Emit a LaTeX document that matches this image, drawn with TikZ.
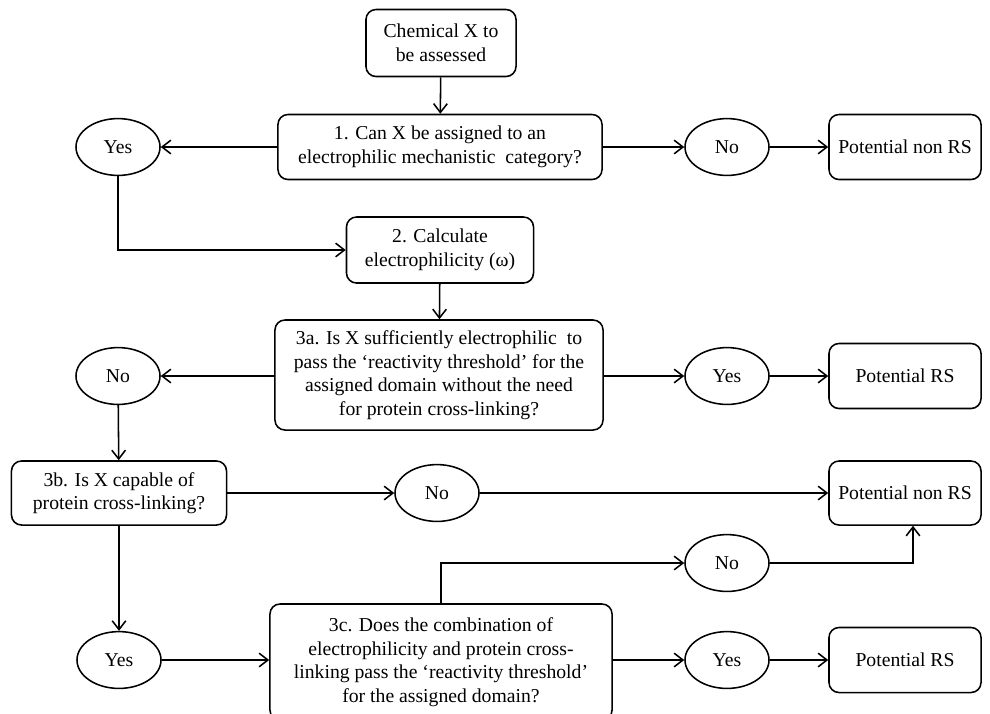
\documentclass[tikz,border=0pt]{standalone}
\usepackage{fontspec}
\setmainfont{Liberation Serif}
\usepackage{tikz}
\usetikzlibrary{shapes,arrows.meta}
\tikzset{
  stepbox/.style={draw,rounded corners=0.25cm,line width=1.1pt,align=center,inner sep=2pt},
  answer/.style={draw,ellipse,line width=1.1pt,minimum width=2.1cm,minimum height=1.42cm,inner sep=0pt},
  conn/.style={line width=1.1pt,-{Straight Barb[length=2.2mm,width=3.4mm,line width=1.1pt]}}
}

\begin{document}
\begin{tikzpicture}[x=0.025cm,y=-0.025cm,font=\fontsize{14}{16.8}\selectfont]

\clip (0,0) rectangle (990,713);

\node[stepbox,minimum width=3.75cm,minimum height=1.675cm] (start) at (441,43) {Chemical X to\\be assessed};

\node[stepbox,minimum width=8.1cm,minimum height=1.625cm] (q1) at (440,147) {1. Can X be assigned to an\\electrophilic mechanistic\ \ category?};

\node[answer] (yes1) at (118,147) {Yes};

\node[answer] (no1) at (727,147) {No};

\node[stepbox,minimum width=3.8cm,minimum height=1.625cm] (nonrs1) at (905,147) {Potential non RS};

\node[stepbox,minimum width=4.675cm,minimum height=1.65cm] (calc) at (440,250) {2. Calculate\\electrophilicity (ω)};

\node[stepbox,minimum width=8.2cm,minimum height=2.75cm] (q3a) at (439,375) {3a. Is X sufficiently electrophilic\ \ to\\pass the `reactivity threshold' for the\\assigned domain without the need\\for protein cross-linking?};

\node[answer] (no2) at (118,376) {No};

\node[answer] (yes2) at (727,376) {Yes};

\node[stepbox,minimum width=3.8cm,minimum height=1.625cm] (rs1) at (905,376) {Potential RS};

\node[stepbox,minimum width=5.375cm,minimum height=1.6cm] (q3b) at (119,493) {3b. Is X capable of\\protein cross-linking?};

\node[answer] (no3) at (437,493) {No};

\node[stepbox,minimum width=3.8cm,minimum height=1.6cm] (nonrs2) at (905,493) {Potential non RS};

\node[answer] (no4) at (727,563) {No};

\node[answer] (yes3) at (119,660) {Yes};

\node[stepbox,minimum width=8.55cm,minimum height=2.9cm] (q3c) at (441,662) {3c. Does the combination of\\electrophilicity and protein cross-\\linking pass the `reactivity threshold'\\for the assigned domain?};

\node[answer] (yes4) at (727,660) {Yes};

\node[stepbox,minimum width=3.8cm,minimum height=1.625cm] (rs2) at (905,660) {Potential RS};

% step 1
\draw[conn] (start) -- (q1);

\draw[conn] (q1) -- (yes1);

\draw[conn] (q1) -- (no1);

\draw[conn] (no1) -- (nonrs1);

\draw[conn] (yes1) |- (calc);

% step 2 and 3a
\draw[conn] (calc) -- (q3a);

\draw[conn] (q3a.west |- no2) -- (no2);

\draw[conn] (q3a.east |- yes2) -- (yes2);

\draw[conn] (yes2) -- (rs1);

\draw[conn] (no2) -- (q3b);

% step 3b
\draw[conn] (q3b) -- (no3);

\draw[conn] (no3) -- (nonrs2);

\draw[conn] (q3b) -- (yes3);

% step 3c
\draw[conn] (yes3) -- (q3c.west |- yes3);

\draw[conn] (q3c.east |- yes4) -- (yes4);

\draw[conn] (yes4) -- (rs2);

\draw[conn] (q3c.north) |- (no4);

\draw[conn] (no4) -| ([xshift=0.2cm]nonrs2.south);

\end{tikzpicture}
\end{document}
